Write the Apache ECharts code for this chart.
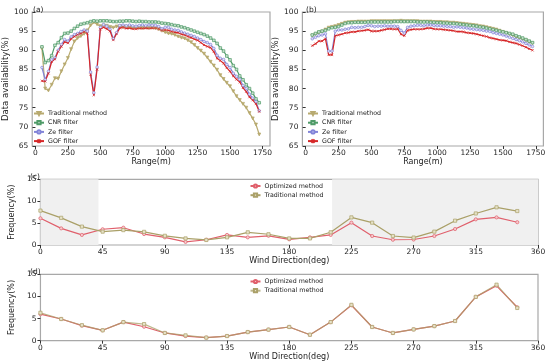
<!DOCTYPE html>
<html>
<head>
<meta charset="utf-8">
<script src="https://cdn.jsdelivr.net/npm/echarts@6/dist/echarts.min.js"></script>
<style>html,body{margin:0;padding:0;background:#fff}#c{width:550px;height:363px}</style>
</head>
<body>
<div id="c"></div>
<script>
// ---------- data ----------
const ranges = [50,75,100,125,150,175,200,225,250,275,300,325,350,375,400,425,450,475,500,525,550,575,600,625,650,675,700,725,750,775,800,825,850,875,900,925,950,975,1000,1025,1050,1075,1100,1125,1150,1175,1200,1225,1250,1275,1300,1325,1350,1375,1400,1425,1450,1475,1500,1525,1550,1575,1600,1625,1650,1675,1700,1725];

const tradA = [90.5,80.0,79.5,81.0,82.7,82.6,84.5,86.3,88.0,90.3,92.3,93.2,93.7,94.3,95.2,96.5,97.3,96.8,96.3,96.5,96.4,96.1,95.9,96.2,96.3,96.1,96.2,96.0,95.9,95.8,95.9,95.8,95.9,95.8,95.9,95.7,95.5,95.1,94.7,94.4,94.3,94.0,93.6,93.3,93.1,92.6,92.1,91.4,90.6,89.9,89.1,88.1,87.0,86.0,84.9,83.5,82.5,81.5,80.6,79.3,78.0,77.0,76.0,75.0,73.6,72.2,70.6,68.0];
const cnrA = [90.9,86.8,87.3,88.6,91.3,92.0,93.3,94.4,94.5,95.0,95.7,96.3,96.8,97.0,97.2,97.5,97.7,97.6,97.7,97.7,97.7,97.6,97.5,97.5,97.6,97.6,97.7,97.7,97.6,97.5,97.6,97.5,97.5,97.4,97.4,97.4,97.3,97.1,97.0,96.9,96.7,96.5,96.4,96.1,95.9,95.6,95.3,95.0,94.7,94.4,94.1,93.7,93.2,92.6,91.8,90.6,89.8,88.5,87.5,86.0,85.0,83.3,82.3,81.0,80.0,78.8,77.3,76.3];
const zeA = [85.5,82.3,84.5,87.5,88.0,90.0,91.5,92.8,92.4,93.5,94.1,94.4,94.9,95.3,95.0,84.3,78.9,85.6,96.0,96.7,96.3,95.5,93.0,94.6,96.5,96.6,96.4,96.6,96.4,96.3,96.5,96.6,96.4,96.6,96.5,96.5,96.2,95.6,96.0,96.0,95.5,95.3,95.2,94.8,94.5,94.2,93.9,93.6,93.2,92.8,92.3,92.0,91.5,90.5,88.7,87.9,87.6,86.3,85.5,84.0,83.2,82.4,80.8,80.0,78.5,77.5,76.6,74.2];
const gofA = [82.0,81.9,84.0,87.0,87.7,89.7,91.0,92.2,91.9,93.0,93.6,94.1,94.4,94.8,94.4,83.6,78.3,85.0,95.5,96.0,95.6,95.0,92.7,94.3,95.8,96.0,95.7,95.8,95.6,95.6,95.7,95.7,95.8,95.7,95.8,95.8,95.6,95.2,95.3,95.2,94.9,94.7,94.6,94.2,94.0,93.6,93.3,92.9,92.6,92.0,91.4,91.0,90.7,89.6,87.9,87.3,86.6,85.4,84.5,83.3,82.4,81.7,80.2,79.2,77.8,77.0,76.0,74.0];

const tradB = [93.8,94.2,94.6,94.9,95.4,95.9,96.1,96.3,96.6,96.9,97.2,97.3,97.4,97.4,97.5,97.5,97.5,97.5,97.6,97.6,97.6,97.6,97.6,97.6,97.6,97.6,97.6,97.7,97.6,97.6,97.6,97.6,97.6,97.5,97.5,97.5,97.5,97.4,97.4,97.4,97.3,97.3,97.2,97.2,97.1,97.0,96.9,96.8,96.7,96.6,96.5,96.3,96.2,96.0,95.8,95.6,95.4,95.1,94.8,94.5,94.2,93.9,93.5,93.2,92.9,92.6,92.2,91.8];
const cnrB = [94.0,94.4,94.8,95.0,95.2,95.6,95.9,96.0,96.2,96.6,97.0,97.2,97.2,97.3,97.3,97.3,97.3,97.4,97.4,97.4,97.4,97.4,97.4,97.4,97.4,97.5,97.5,97.5,97.5,97.5,97.5,97.5,97.4,97.4,97.4,97.4,97.3,97.3,97.2,97.2,97.1,97.1,97.0,97.0,96.9,96.8,96.7,96.6,96.5,96.4,96.3,96.1,96.0,95.8,95.6,95.4,95.2,95.0,94.8,94.6,94.4,94.2,93.8,93.5,93.2,92.8,92.4,92.0];
const zeB = [93.0,93.4,93.8,94.0,94.3,89.8,89.8,95.0,95.3,95.3,95.5,95.6,96.0,95.9,96.0,96.0,96.2,96.5,96.4,96.2,96.3,96.3,96.4,96.3,96.3,96.3,96.2,95.2,94.5,96.0,96.3,96.4,96.5,96.5,96.4,96.6,96.6,96.5,96.4,96.4,96.3,96.2,96.2,96.0,96.1,96.0,95.9,95.8,95.6,95.5,95.4,95.3,95.2,95.0,94.9,94.6,94.4,94.2,94.0,93.7,93.4,93.1,92.8,92.5,92.2,91.8,91.4,91.0];
const gofB = [91.2,91.7,92.4,92.4,93.0,88.8,88.8,93.8,94.0,94.2,94.5,94.6,94.8,94.8,95.0,95.1,95.2,95.4,95.0,95.0,95.0,95.2,95.4,95.6,95.6,95.5,95.6,94.2,93.8,95.2,95.4,95.5,95.5,95.5,95.6,95.8,95.8,95.6,95.5,95.5,95.4,95.3,95.2,95.1,94.9,94.9,94.8,94.6,94.5,94.4,94.2,94.0,93.8,93.6,93.3,93.1,92.9,92.7,92.6,92.5,92.2,92.0,91.8,91.5,91.2,90.8,90.4,90.0];

const directions = [0,15,30,45,60,75,90,105,120,135,150,165,180,195,210,225,240,255,270,285,300,315,330,345];
const optC = [6.1,3.8,2.3,3.6,3.95,2.5,1.75,0.7,1.2,2.3,1.75,2.1,1.3,1.75,2.3,5.1,2.05,1.2,1.25,2.05,3.65,5.85,6.3,5.2];
const tradC = [7.85,6.2,4.2,3.05,3.4,3.0,2.1,1.5,1.15,1.75,2.9,2.45,1.5,1.5,2.9,6.3,5.1,2.05,1.7,3.05,5.55,7.2,8.6,7.75];
const optD = [6.0,4.9,3.4,2.35,4.2,3.15,1.75,1.05,0.7,1.05,1.95,2.5,3.1,1.35,4.2,8.0,3.1,1.75,2.55,3.3,4.45,9.9,12.4,7.55];
const tradD = [6.3,4.9,3.5,2.35,4.2,3.75,1.75,1.2,0.7,1.05,1.95,2.5,3.1,1.35,4.2,8.1,3.1,1.75,2.55,3.3,4.45,9.9,12.65,7.4];
const shadedSectors = [[0,42],[211,360]];

const rangeTicks = [0,250,500,750,1000,1250,1500,1750];

const panelNames = {a:['Traditional method','CNR filter','Ze filter','GOF filter'], c:['Optimized method','Traditional method']};

// ---------- chart ----------
const FONT = 'DejaVu Sans';
const TXT = '#222';
const zip = (xs, ys) => xs.map((x, i) => [x, ys[i]]);
const xMark = 'path://M0,0L10,10M10,0L0,10';
const plain = v => String(v);

const grids = [
  {left: 29, top: 12, width: 241, height: 134},
  {left: 302.4, top: 12, width: 241, height: 134},
  {left: 25, top: 179.3, width: 513, height: 65.7},
  {left: 25, top: 274.3, width: 513, height: 66.4}
].map(g => Object.assign(g, {show: true, borderColor: '#a8a8a8', borderWidth: 1.2, backgroundColor: 'transparent'}));

function rangeAxis(i) {
  return {
    type: 'value', gridIndex: i, min: -25, max: 1808,
    name: 'Range(m)', nameLocation: 'middle', nameGap: 9,
    nameTextStyle: {fontFamily: FONT, fontSize: 8, color: TXT},
    axisLine: {show: false}, splitLine: {show: false},
    axisTick: {show: true, length: 3, inside: false, customValues: rangeTicks, lineStyle: {color: '#333'}},
    axisLabel: {customValues: rangeTicks, formatter: plain, fontFamily: FONT, fontSize: 7.5, color: TXT, margin: 3}
  };
}
function availAxis(i, gap) {
  return {
    type: 'value', gridIndex: i, min: 65, max: 100, interval: 5,
    name: 'Data availability(%)', nameLocation: 'middle', nameGap: gap,
    nameTextStyle: {fontFamily: FONT, fontSize: 8.5, color: TXT},
    axisLine: {show: false}, splitLine: {show: false},
    axisTick: {show: true, length: 3, lineStyle: {color: '#333'}},
    axisLabel: {fontFamily: FONT, fontSize: 7.5, color: TXT, margin: 4}
  };
}
function dirAxis(i) {
  return {
    type: 'value', gridIndex: i, min: 0, max: 360, interval: 45,
    name: 'Wind Direction(deg)', nameLocation: 'middle', nameGap: 10,
    nameTextStyle: {fontFamily: FONT, fontSize: 8, color: TXT},
    axisLine: {show: false}, splitLine: {show: false},
    axisTick: {show: true, length: 3, lineStyle: {color: '#333'}},
    axisLabel: {fontFamily: FONT, fontSize: 7.5, color: TXT, margin: 3, showMaxLabel: true}
  };
}
function freqAxis(i) {
  return {
    type: 'value', gridIndex: i, min: 0, max: 15, interval: 5,
    name: 'Frequency(%)', nameLocation: 'middle', nameGap: 14,
    nameTextStyle: {fontFamily: FONT, fontSize: 8, color: TXT},
    axisLine: {show: false}, splitLine: {show: false},
    axisTick: {show: true, length: 3, lineStyle: {color: '#333'}},
    axisLabel: {fontFamily: FONT, fontSize: 7.5, color: TXT, margin: 4}
  };
}

const C_TRAD = '#b8aa70', C_CNR = '#4f9b68', C_ZE = '#8284d8', C_GOF = '#d62728';
const C_OPT = '#e0606c', C_TRAD2 = '#aaa068';

function lineS(name, xi, data, color, symbol, size, extra) {
  return Object.assign({
    type: 'line', name: name, xAxisIndex: xi, yAxisIndex: xi, data: data,
    symbol: symbol, symbolSize: size, showSymbol: true, showAllSymbol: true,
    lineStyle: {color: color, width: 1.2},
    itemStyle: {color: color, borderColor: color, borderWidth: 0.7},
    animation: false, z: 3
  }, extra || {});
}

const series = [];
const defsAB = [
  [tradA, tradB, C_TRAD, 'triangle', 3, {symbolRotate: 180}],
  [cnrA, cnrB, C_CNR, 'rect', 2.6, {}],
  [zeA, zeB, C_ZE, 'circle', 2.6, {}],
  [gofA, gofB, C_GOF, xMark, 2.4, {}]
];
defsAB.forEach((d, k) => {
  const nm = panelNames.a[k];
  const ex = Object.assign({}, d[5]);
  if (d[3] === 'rect') ex.itemStyle = {color: '#cfe5d4', borderColor: d[2], borderWidth: 0.7};
  if (d[3] === 'circle') ex.itemStyle = {color: '#e4e4f7', borderColor: d[2], borderWidth: 0.7};
  series.push(lineS(nm + '|a', 0, zip(ranges, d[0]), d[2], d[3], d[4], ex));
  series.push(lineS(nm + '|b', 1, zip(ranges, d[1]), d[2], d[3], d[4], Object.assign({}, ex)));
});

const shadeArea = {
  silent: true, itemStyle: {color: '#f0f0f0'},
  data: shadedSectors.map(s => [{xAxis: s[0]}, {xAxis: s[1]}])
};
series.push(lineS(panelNames.c[0] + '|c', 2, zip(directions, optC), C_OPT, 'circle', 3.2,
  {itemStyle: {color: '#f7c9cd', borderColor: C_OPT, borderWidth: 0.7}, markArea: shadeArea}));
series.push(lineS(panelNames.c[1] + '|c', 2, zip(directions, tradC), C_TRAD2, 'rect', 3.2,
  {itemStyle: {color: '#e6e2c8', borderColor: C_TRAD2, borderWidth: 0.7}}));
series.push(lineS(panelNames.c[0] + '|d', 3, zip(directions, optD), C_OPT, 'circle', 3.2,
  {itemStyle: {color: '#f7c9cd', borderColor: C_OPT, borderWidth: 0.7}}));
series.push(lineS(panelNames.c[1] + '|d', 3, zip(directions, tradD), C_TRAD2, 'rect', 3.2,
  {itemStyle: {color: '#e6e2c8', borderColor: C_TRAD2, borderWidth: 0.7}, lineStyle: {color: C_TRAD2, width: 1.2, opacity: 0.75}}));

const legendBase = {
  orient: 'vertical', itemWidth: 10, itemHeight: 4, itemGap: 3.2,
  formatter: n => n.split('|')[0],
  textStyle: {fontFamily: FONT, fontSize: 6.3, color: TXT, padding: [0, 0, 0, -1]},
  selectedMode: false, padding: 0
};
const legends = [
  Object.assign({}, legendBase, {left: 33, top: 110.5, data: panelNames.a.map(n => n + '|a')}),
  Object.assign({}, legendBase, {left: 307, top: 110.5, data: panelNames.a.map(n => n + '|b')}),
  Object.assign({}, legendBase, {left: 249.5, top: 183, data: panelNames.c.map(n => n + '|c')}),
  Object.assign({}, legendBase, {left: 249.5, top: 278.5, data: panelNames.c.map(n => n + '|d')})
];

const titleStyle = {fontFamily: FONT, fontSize: 7.5, fontWeight: 'normal', color: TXT};
const titles = [
  {text: '(a)', left: 28, top: 1.5, textStyle: titleStyle},
  {text: '(b)', left: 301, top: 1.5, textStyle: titleStyle},
  {text: '(c)', left: 25, top: 168.5, textStyle: titleStyle},
  {text: '(d)', left: 25, top: 263.5, textStyle: titleStyle}
];

const chart = echarts.init(document.getElementById('c'), null, {renderer: 'canvas'});
chart.setOption({
  animation: false,
  backgroundColor: '#fff',
  title: titles,
  legend: legends,
  grid: grids,
  xAxis: [rangeAxis(0), rangeAxis(1), dirAxis(2), dirAxis(3)],
  yAxis: [availAxis(0, 19), availAxis(1, 19), freqAxis(2), freqAxis(3)],
  series: series
});
</script>
</body>
</html>
